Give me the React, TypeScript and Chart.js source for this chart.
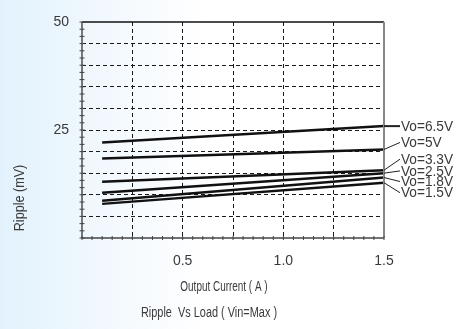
import React, { useEffect, useRef } from "react";
import { Chart, registerables } from "chart.js";

Chart.register(...registerables);

const currents = [0.1, 1.5];
const seriesNames = ["Vo=6.5V", "Vo=5V", "Vo=3.3V", "Vo=2.5V", "Vo=1.8V", "Vo=1.5V"];
const ripple65 = [22.1, 25.9];
const ripple50 = [18.4, 20.5];
const ripple33 = [13.0, 15.7];
const ripple25 = [10.5, 15.0];
const ripple18 = [8.6, 14.0];
const ripple15 = [7.9, 12.8];
const xTickLabels = ["0.5", "1.0", "1.5"];
const yTickLabels = ["25", "50"];

const FONT = '"Liberation Sans", Arial, sans-serif';
const TEXT = "#3a3a3a";

const labelOffsets = [0, -7, -11, -2.3, 4, 10];

function drawScaledText(ctx: any, text: string, x: number, y: number, sx: number) {
  ctx.save();
  ctx.translate(x, y);
  ctx.scale(sx, 1);
  ctx.fillText(text, 0, 0);
  ctx.restore();
}

const decorPlugin = {
  id: "decor",
  afterDatasetsDraw(chart: any) {
    const { ctx, chartArea } = chart;
    const xs = chart.scales.x;
    const ys = chart.scales.y;
    const { left, right, top, bottom } = chartArea;
    ctx.save();
    ctx.setLineDash([]);
    ctx.lineWidth = 1.5;
    ctx.strokeStyle = "#111";
    ctx.beginPath(); ctx.moveTo(left, top); ctx.lineTo(right, top); ctx.stroke();
    ctx.strokeStyle = "#444";
    ctx.beginPath(); ctx.moveTo(left, bottom); ctx.lineTo(right, bottom); ctx.stroke();
    ctx.lineWidth = 2;
    ctx.strokeStyle = "#777";
    ctx.beginPath(); ctx.moveTo(left, top); ctx.lineTo(left, bottom); ctx.stroke();
    ctx.strokeStyle = "#888";
    ctx.beginPath(); ctx.moveTo(right, top); ctx.lineTo(right, bottom); ctx.stroke();
    ctx.lineWidth = 1;
    ctx.strokeStyle = "#444";
    for (let i = 0; i <= 30; i++) {
      const px = xs.getPixelForValue(i * 0.05);
      ctx.beginPath(); ctx.moveTo(px, bottom - 2); ctx.lineTo(px, bottom + 2); ctx.stroke();
    }
    for (let i = 0; i <= 30; i++) {
      const py = ys.getPixelForValue((i * 5) / 3);
      ctx.beginPath(); ctx.moveTo(left - 2.5, py); ctx.lineTo(left + 2.5, py); ctx.stroke();
    }
    ctx.font = "15px " + FONT;
    ctx.fillStyle = TEXT;
    ctx.textBaseline = "middle";
    ctx.textAlign = "left";
    chart.data.datasets.forEach((ds: any, i: number) => {
      const last = ds.data[ds.data.length - 1];
      const ex = xs.getPixelForValue(last.x);
      const ey = ys.getPixelForValue(last.y);
      const ly = ey + labelOffsets[i];
      ctx.strokeStyle = "#222";
      ctx.lineWidth = i === 0 ? 2 : 1;
      ctx.beginPath(); ctx.moveTo(ex, ey); ctx.lineTo(ex + 16, ly); ctx.stroke();
      drawScaledText(ctx, ds.label, ex + 17, ly + 0.5, 0.91);
    });
    ctx.fillStyle = TEXT;
    ctx.textAlign = "center";
    ctx.font = "14px " + FONT;
    drawScaledText(ctx, "Output Current ( A )", 224, 287, 0.71);
    drawScaledText(ctx, "Ripple  Vs Load ( Vin=Max )", 209, 313, 0.78);
    ctx.translate(20, 198);
    ctx.rotate(-Math.PI / 2);
    drawScaledText(ctx, "Ripple (mV)", 0, 0, 0.9);
    ctx.restore();
  },
};

export default function App() {
  const ref = useRef<HTMLCanvasElement | null>(null);
  useEffect(() => {
    if (!ref.current) return;
    const all = [ripple65, ripple50, ripple33, ripple25, ripple18, ripple15];
    const chart = new Chart(ref.current, {
      type: "line",
      data: {
        datasets: all.map((vals, i) => ({
          label: seriesNames[i],
          data: vals.map((v, j) => ({ x: currents[j], y: v })),
          borderColor: "#111",
          borderWidth: 2.5,
          pointRadius: 0,
          fill: false,
          tension: 0,
        })),
      },
      options: {
        animation: false,
        responsive: false,
        layout: { padding: { top: 22, right: 74, left: 0, bottom: 0 } },
        plugins: { legend: { display: false }, tooltip: { enabled: false }, title: { display: false } },
        scales: {
          x: {
            type: "linear",
            min: 0,
            max: 1.5,
            afterFit: (s: any) => { s.height = 91; },
            ticks: {
              stepSize: 0.25,
              autoSkip: false,
              maxRotation: 0,
              padding: 15,
              color: TEXT,
              font: { family: FONT, size: 14 },
              callback: (v: any) => {
                const n = Number(v);
                const t = n.toFixed(1);
                return Math.abs(n * 2 - Math.round(n * 2)) < 1e-6 && xTickLabels.includes(t) ? t : "";
              },
            },
            grid: {
              drawTicks: false,
              color: (c: any) => (c.tick && (c.tick.value <= 0 || c.tick.value >= 1.5) ? "rgba(0,0,0,0)" : "#1a1a1a"),
              lineWidth: 1,
            },
            border: { display: false, dash: [4, 3] },
          },
          y: {
            type: "linear",
            min: 0,
            max: 50,
            afterFit: (s: any) => { s.width = 82; },
            ticks: {
              stepSize: 5,
              autoSkip: false,
              padding: 13,
              color: TEXT,
              font: { family: FONT, size: 14 },
              callback: (v: any) => (yTickLabels.includes(String(v)) ? String(v) : ""),
            },
            grid: {
              drawTicks: false,
              color: (c: any) => (c.tick && (c.tick.value <= 0 || c.tick.value >= 50) ? "rgba(0,0,0,0)" : "#1a1a1a"),
              lineWidth: 1,
            },
            border: { display: false, dash: [4, 3] },
          },
        },
      },
      plugins: [decorPlugin],
    });
    return () => chart.destroy();
  }, []);
  return (
    <div
      style={{
        position: "fixed",
        left: 0,
        top: 0,
        width: 458,
        height: 329,
        background: "linear-gradient(to right, #e2f2fc 0%, #f3f9fe 25%, #ffffff 45%)",
      }}
    >
      <canvas ref={ref} width={458} height={329} style={{ display: "block" }} />
    </div>
  );
}
